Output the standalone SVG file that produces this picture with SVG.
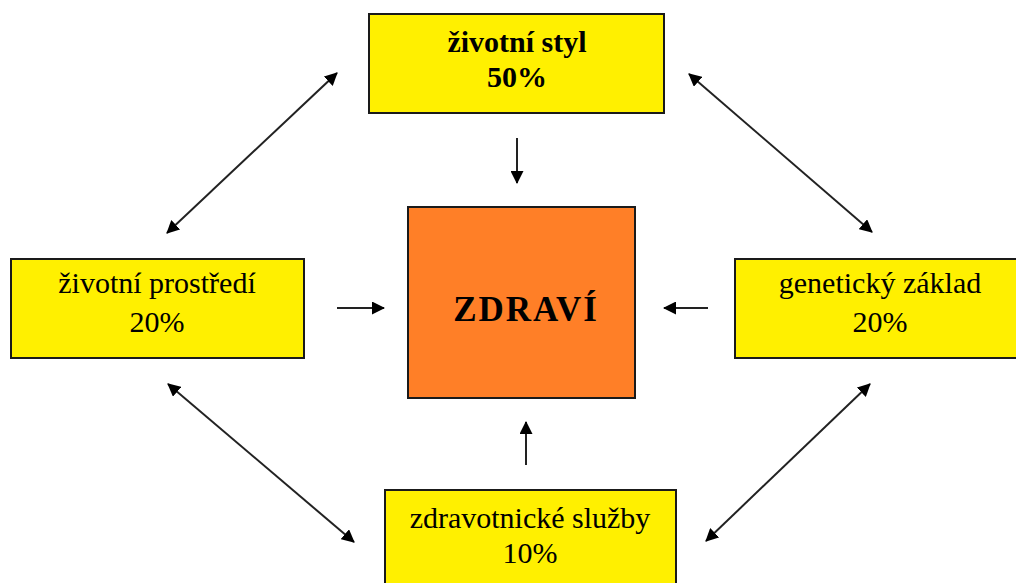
<svg xmlns="http://www.w3.org/2000/svg" width="1016" height="583" viewBox="0 0 1016 583">
<style>
.box{fill:#FFF000;stroke:#1a1a1a;stroke-width:2}
.core{fill:#FF7F27;stroke:#1a1a1a;stroke-width:2}
text{font-family:"Liberation Serif","Times New Roman",serif;fill:#000;text-anchor:middle}
.t{font-size:30px}
.b{font-weight:bold}
.c line{stroke:#222;stroke-width:2}
</style>
<defs>
<marker id="ah" viewBox="0 0 13 13" refX="12" refY="6.5" markerWidth="13" markerHeight="13" markerUnits="userSpaceOnUse" orient="auto-start-reverse">
<path d="M0,0 L13,6.5 L0,13 z" fill="#000"/>
</marker>
</defs>
<rect width="1016" height="583" fill="#fff"/>
<g class="c" id="connectors">
<line x1="167" y1="233" x2="337" y2="73" marker-start="url(#ah)" marker-end="url(#ah)"/>
<line x1="689" y1="74" x2="872" y2="232" marker-start="url(#ah)" marker-end="url(#ah)"/>
<line x1="168" y1="384" x2="354" y2="542" marker-start="url(#ah)" marker-end="url(#ah)"/>
<line x1="870" y1="384" x2="706" y2="541" marker-start="url(#ah)" marker-end="url(#ah)"/>
<line x1="517" y1="138" x2="517" y2="183" marker-end="url(#ah)"/>
<line x1="526" y1="465" x2="526" y2="422" marker-end="url(#ah)"/>
<line x1="337" y1="308" x2="384" y2="308" marker-end="url(#ah)"/>
<line x1="708" y1="308" x2="664" y2="308" marker-end="url(#ah)"/>
</g>
<g id="zivotni-styl">
<rect class="box" x="369" y="14" width="295" height="99"/>
<text class="t b" x="517" y="52">životní styl</text>
<text class="t b" x="517" y="87">50%</text>
</g>
<g id="zivotni-prostredi">
<rect class="box" x="11" y="259" width="293" height="99"/>
<text class="t" x="157" y="293">životní prostředí</text>
<text class="t" x="157" y="332">20%</text>
</g>
<g id="geneticky-zaklad">
<rect class="box" x="735" y="259" width="290" height="99"/>
<text class="t" x="880" y="293">genetický základ</text>
<text class="t" x="880" y="332">20%</text>
</g>
<g id="zdravotnicke-sluzby">
<rect class="box" x="385" y="490" width="291" height="110"/>
<text class="t" x="530" y="528">zdravotnické služby</text>
<text class="t" x="530" y="563">10%</text>
</g>
<g id="zdravi">
<rect class="core" x="408" y="207" width="227" height="191"/>
<text class="b" x="526" y="321" style="font-size:35px;letter-spacing:2px">ZDRAVÍ</text>
</g>
</svg>
